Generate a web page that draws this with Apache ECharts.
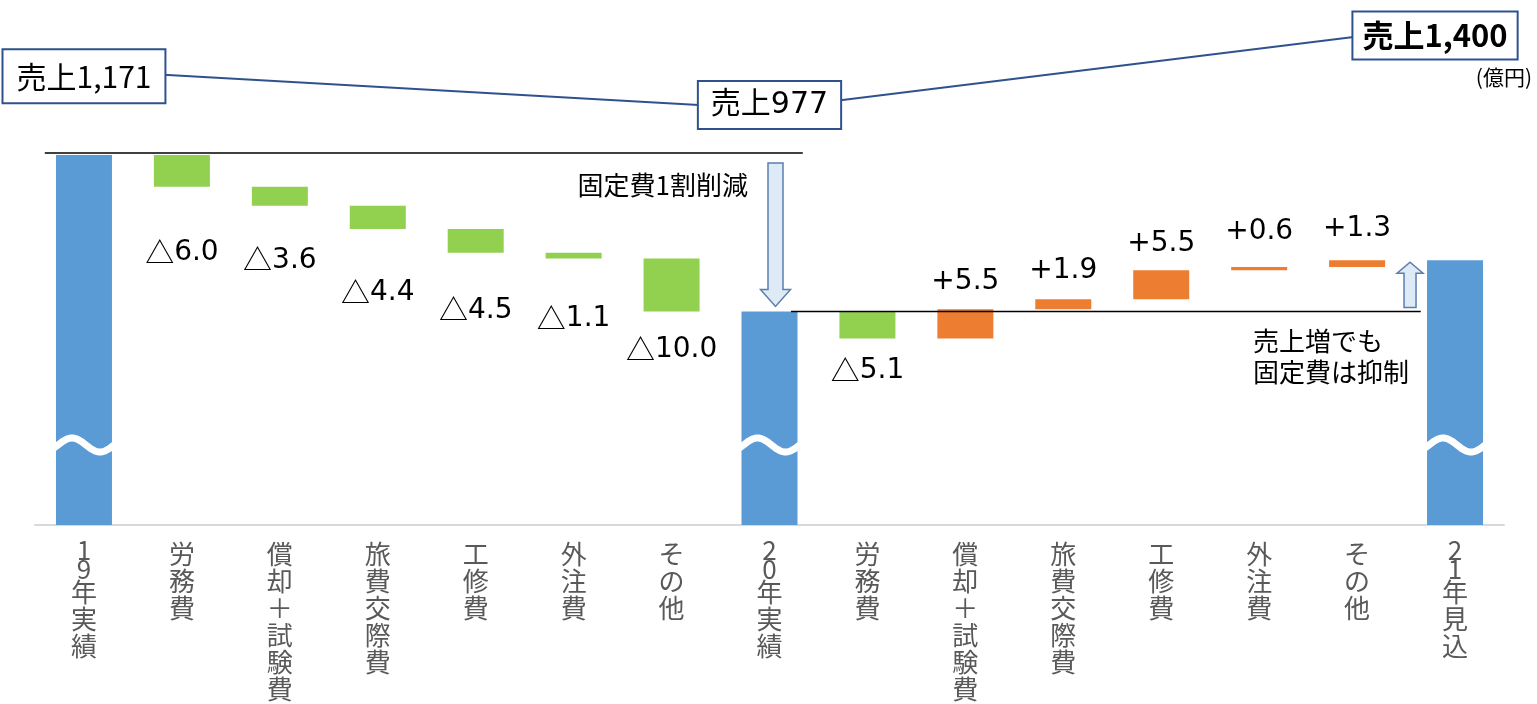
<!DOCTYPE html>
<html><head><meta charset="utf-8">
<script src="https://cdn.jsdelivr.net/npm/echarts@6/dist/echarts.min.js"></script>
<style>html,body{margin:0;padding:0;background:#fff}#c{width:1537px;height:704px}</style>
</head><body><div id="c"></div>
<script>
// ---- data ----
const categories = ['19年実績','労務費','償却＋試験費','旅費交際費','工修費','外注費','その他','20年実績','労務費','償却＋試験費','旅費交際費','工修費','外注費','その他','21年見込'];
const fixedCost19 = 296.0;                              // 固定費 19年実績 (axis is broken)
const changes20 = [-6.0, -3.6, -4.4, -4.5, -1.1, -10.0]; // 19年 → 20年
const changes21 = [-5.1, 5.5, 1.9, 5.5, 0.6, 1.3];        // 20年 → 21年
const salesIdx = [0, 7, 14];
const salesValues = [1171, 977, 1400];
const salesLabels = ['売上1,171', '売上977', '売上1,400'];
const unitLabel = '(億円)';
const noteCut = '固定費1割削減';
const noteKeep = '売上増でも\n固定費は抑制';
const axisBreakMin = 226;

// ---- build waterfall ----
const base = [], vis = [], kind = [];
let run = fixedCost19;
base.push(0); vis.push(fixedCost19); kind.push('total');
changes20.forEach(d => { const nr = run + d; base.push(Math.min(run, nr)); vis.push(Math.abs(d)); kind.push(d < 0 ? 'down' : 'up'); run = nr; });
const total20 = run;
base.push(0); vis.push(total20); kind.push('total');
changes21.forEach(d => { const nr = run + d; base.push(Math.min(run, nr)); vis.push(Math.abs(d)); kind.push(d < 0 ? 'down' : 'up'); run = nr; });
const total21 = run;
base.push(0); vis.push(total21); kind.push('total');

const COLORS = { total: '#5B9BD5', down: '#92D050', up: '#ED7D31' };
const labelGap = { 1: 52, 2: 40, 3: 49, 4: 43, 5: 46, 6: 24, 8: 18, 9: 14, 10: 15, 11: 13, 12: 21, 13: 17 };
const FONT = '"Noto Sans CJK JP", "Noto Sans", sans-serif';
const NUMFONT = '"DejaVu Sans", "Noto Sans CJK JP", sans-serif';

const barData = vis.map((v, i) => {
  const k = kind[i];
  const item = { value: v, itemStyle: { color: COLORS[k] } };
  if (k === 'total') item.label = { show: false };
  else item.label = {
    show: true,
    position: k === 'down' ? 'bottom' : 'top',
    distance: labelGap[i],
    formatter: (k === 'down' ? '{t|△}' : '+') + v.toFixed(1)
  };
  return item;
});

const salesData = categories.map(() => null);
const salesLabelStyle = [
  { padding: [8, 13, 8, 13], offset: [0, 6], fontWeight: 'normal', fontFamily: FONT },
  { padding: [5, 12, 5, 12], offset: [0, -4], fontWeight: 'normal', fontFamily: NUMFONT },
  { padding: [5, 9, 5, 9], offset: [-20, 11], fontWeight: 'bold', fontFamily: FONT, fontSize: 31 }
];
salesIdx.forEach((ci, j) => {
  salesData[ci] = {
    value: salesValues[j],
    label: Object.assign({ formatter: salesLabels[j] }, salesLabelStyle[j])
  };
});

const chart = echarts.init(document.getElementById('c'), null, { renderer: 'canvas' });
chart.setOption({
  animation: false,
  backgroundColor: '#fff',
  textStyle: { fontFamily: FONT },
  grid: [
    { left: 35, right: 33, top: 155, bottom: 179 },
    { left: 35, right: 33, top: 20, height: 100 }
  ],
  xAxis: [
    {
      type: 'category', data: categories, gridIndex: 0,
      axisLine: { lineStyle: { color: '#D9D9D9', width: 2 } },
      axisTick: { show: false },
      axisLabel: {
        interval: 0, margin: 16, verticalAlign: 'top',
        formatter: v => v.split('').map(ch => /[0-9]/.test(ch) ? '{d|' + ch + '}' : '{k|' + ch + '}').join('\n'),
        rich: {
          k: { fontSize: 26, lineHeight: 27, color: '#595959', fontFamily: FONT },
          d: { fontSize: 26, lineHeight: 19, color: '#595959', fontFamily: FONT }
        }
      }
    },
    { type: 'category', data: categories, gridIndex: 1, show: false }
  ],
  yAxis: [
    { type: 'value', gridIndex: 0, min: axisBreakMin, max: fixedCost19, show: false, splitLine: { show: false } },
    { type: 'value', gridIndex: 1, min: 922, max: 1422, show: false, splitLine: { show: false } }
  ],
  series: [
    {
      name: 'base', type: 'bar', stack: 'wf', data: base, barWidth: 56,
      itemStyle: { color: 'rgba(0,0,0,0)' }, silent: true, clip: true
    },
    {
      name: '固定費', type: 'bar', stack: 'wf', data: barData, barWidth: 56, clip: true,
      label: {
        color: '#000', fontSize: 28, fontFamily: NUMFONT,
        rich: { t: { fontSize: 29, fontFamily: FONT, color: '#000' } }
      }
    },
    {
      // broken-axis wave marks on total bars
      type: 'custom', xAxisIndex: 0, yAxisIndex: 0, silent: true, z: 5,
      data: [[0], [7], [14]],
      encode: { x: 0 },
      renderItem: (params, api) => {
        const c = api.coord([api.value(0), axisBreakMin]);
        const cy = c[1] - 80;
        const pts = [];
        for (let x = -29; x <= 33; x += 1) {
          pts.push([c[0] + x, cy - 7 * Math.sin(Math.PI * (x + 26) / 28)]);
        }
        return { type: 'polyline', shape: { points: pts }, style: { stroke: '#fff', lineWidth: 7, fill: null, lineCap: 'round' } };
      }
    },
    {
      // reference lines at 19年 and 20年 levels
      type: 'custom', xAxisIndex: 0, yAxisIndex: 0, silent: true, z: 6,
      data: [[0, 7, fixedCost19], [7, 14, total20]],
      encode: { x: [0, 1], y: 2 },
      renderItem: (params, api) => {
        const offs = [[-0.40, 0.34, -2], [0.22, -0.35, 0]][params.dataIndex];
        const bw = api.size([1, 0])[0];
        const s = api.coord([api.value(0), api.value(2)]);
        const e = api.coord([api.value(1), api.value(2)]);
        return {
          type: 'line',
          shape: { x1: s[0] + offs[0] * bw, y1: s[1] + offs[2], x2: e[0] + offs[1] * bw, y2: e[1] + offs[2] },
          style: { stroke: '#000', lineWidth: 1.5 }
        };
      }
    },
    {
      // block arrows
      type: 'custom', xAxisIndex: 0, yAxisIndex: 0, silent: true, z: 7,
      data: [[7, fixedCost19, total20], [14, total20, total21]],
      encode: { x: 0, y: [1, 2] },
      renderItem: (params, api) => {
        const i = params.dataIndex;
        const c = api.coord([api.value(0), api.value(1)]);
        const d = api.coord([api.value(0), api.value(2)]);
        let pts;
        if (i === 0) {
          const x = c[0] + 6, top = c[1] + 8, tip = d[1] - 5, sw = 7.5, hw = 15, hl = 17;
          pts = [[x - sw, top], [x + sw, top], [x + sw, tip - hl], [x + hw, tip - hl], [x, tip], [x - hw, tip - hl], [x - sw, tip - hl]];
        } else {
          const x = c[0] - 45, bot = c[1] - 4, tip = d[1] + 2, sw = 6, hw = 13, hl = 11;
          pts = [[x - sw, bot], [x + sw, bot], [x + sw, tip + hl], [x + hw, tip + hl], [x, tip], [x - hw, tip + hl], [x - sw, tip + hl]];
        }
        return { type: 'polygon', shape: { points: pts }, style: { fill: '#DEEBF7', stroke: '#5A7FAE', lineWidth: 1.5 } };
      }
    },
    {
      name: '売上', type: 'line', xAxisIndex: 1, yAxisIndex: 1, data: salesData,
      connectNulls: true, symbol: 'circle', symbolSize: 1, clip: false, z: 8,
      itemStyle: { color: 'rgba(0,0,0,0)' },
      lineStyle: { color: '#2F528F', width: 2 },
      label: {
        show: true, position: 'inside', color: '#000', fontSize: 30, lineHeight: 36,
        backgroundColor: '#fff', borderColor: '#2F528F', borderWidth: 2
      }
    }
  ],
  graphic: [
    { type: 'text', right: 5, top: 67, style: { text: unitLabel, fontSize: 21, fill: '#000', fontFamily: FONT } },
    { type: 'text', x: 748, y: 185, style: { text: noteCut, fontSize: 26, fill: '#000', fontFamily: FONT, align: 'right', verticalAlign: 'middle' } },
    { type: 'text', x: 1253, y: 326, style: { text: noteKeep, fontSize: 26, lineHeight: 31, fill: '#000', fontFamily: FONT, align: 'left', verticalAlign: 'top' } }
  ]
});
</script>
</body></html>
